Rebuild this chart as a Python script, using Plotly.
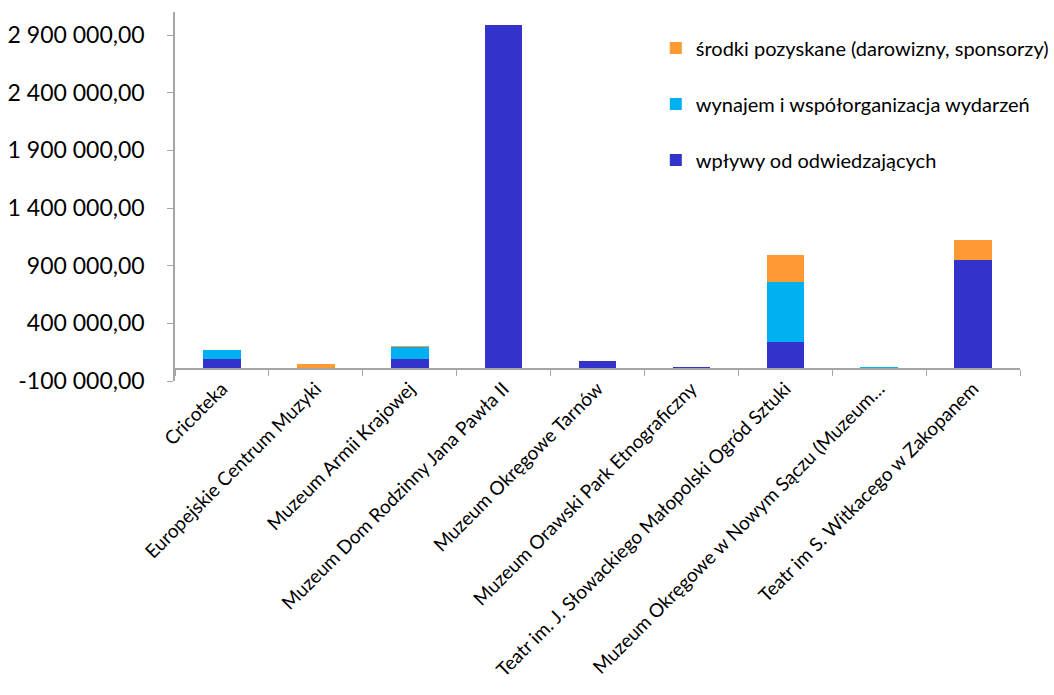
import plotly.graph_objects as go

categories = [
    "Cricoteka",
    "Europejskie Centrum Muzyki",
    "Muzeum Armii Krajowej",
    "Muzeum Dom Rodzinny Jana Pawła II",
    "Muzeum Okręgowe Tarnów",
    "Muzeum Orawski Park Etnograficzny",
    "Teatr im. J. Słowackiego Małopolski Ogród Sztuki",
    "Muzeum Okręgowe w Nowym Sączu (Muzeum…",
    "Teatr im S. Witkacego w Zakopanem",
]
visitors = [91000, 0, 94000, 2983000, 76000, 22000, 241000, 12000, 948000]
rentals = [78000, 0, 101000, 0, 0, 0, 517000, 8000, 0]
sponsors = [0, 48000, 6000, 0, 0, 0, 239000, 0, 173000]

series_names = [
    "wpływy od odwiedzających",
    "wynajem i współorganizacja wydarzeń",
    "środki pozyskane (darowizny, sponsorzy)",
]
series_colors = ["#3333CC", "#00B0F0", "#FF9933"]

y_tickvals = [-100000, 400000, 900000, 1400000, 1900000, 2400000, 2900000]
y_ticktext = ["-100 000,00", "400 000,00", "900 000,00", "1 400 000,00",
              "1 900 000,00", "2 400 000,00", "2 900 000,00"]
y_min, y_max = -100000, 3100000

FONT = "Lato"
fig = go.Figure()
for i, (name, vals, col) in enumerate(zip(series_names, [visitors, rentals, sponsors], series_colors)):
    fig.add_trace(go.Bar(
        x=categories, y=vals, name=name, marker_color=col,
        marker_line_width=0, legendgroup="g%d" % i, legendrank=3 - i, width=0.4,
    ))

fig.update_layout(
    barmode="stack",
    width=1054, height=695,
    margin=dict(l=175, r=34, t=12, b=314, autoexpand=False),
    paper_bgcolor="white", plot_bgcolor="white",
    font=dict(family=FONT, color="black"),
    legend=dict(
        x=0.569, y=0.955, xanchor="left", yanchor="top",
        traceorder="grouped", tracegroupgap=27,
        font=dict(size=20, family=FONT), bgcolor="rgba(0,0,0,0)",
        itemwidth=30,
    ),
    xaxis=dict(
        anchor="free",
        position=(0 - y_min) / (y_max - y_min),
        showline=True, linecolor="#A6A6A6", linewidth=1.5,
        ticks="outside", tickson="boundaries", ticklen=6, tickcolor="#A6A6A6",
        tickangle=-45, tickfont=dict(size=19, family=FONT),
        showgrid=False, automargin=False,
    ),
    yaxis=dict(
        range=[y_min, y_max],
        tickvals=y_tickvals, ticktext=y_ticktext,
        showline=True, linecolor="#A6A6A6", linewidth=1.5,
        ticks="outside", ticklen=6, tickcolor="#A6A6A6",
        tickfont=dict(size=23, family=FONT),
        ticklabelstandoff=18,
        showgrid=False, zeroline=False, automargin=False,
    ),
)

fig.write_html("out.html")
